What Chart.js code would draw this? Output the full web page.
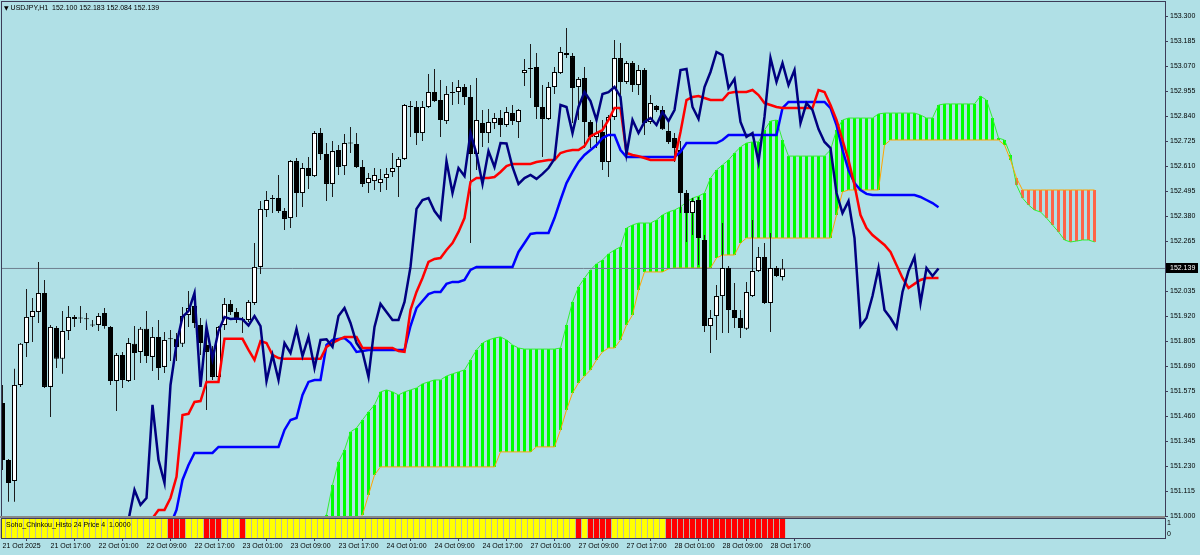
<!DOCTYPE html>
<html>
<head>
<meta charset="utf-8">
<title>USDJPY,H1</title>
<script src="https://cdn.jsdelivr.net/npm/chart.js@4.4.1/dist/chart.umd.min.js"></script>
<style>
  html, body { margin: 0; padding: 0; background: #b0e0e6; width: 1200px; height: 555px; overflow: hidden; }
  #wrap { position: relative; width: 1200px; height: 555px; }
  canvas { position: absolute; left: 0; }
  #mainChart { top: 0; }
  #histChart { top: 518px; }
  #sep { position: absolute; left: 0; top: 516px; width: 1165px; height: 2px; background: #8a8a8a; }
  .lbl { position: absolute; font-family: 'Liberation Sans', Arial, sans-serif; font-size: 7px; line-height: 8px; color: #000; white-space: pre; }
  #hdr { left: 4px; top: 4px; }
  #hdr .tri { font-family: 'DejaVu Sans', sans-serif; font-size: 6px; }
  #histLabel { left: 6px; top: 521px; }
</style>
</head>
<body>
<div id="wrap">
  <canvas id="mainChart" width="1200" height="524"></canvas>
  <div id="sep"></div>
  <canvas id="histChart" width="1200" height="37"></canvas>
  <div id="hdr" class="lbl"><span class="tri">▼</span> <span id="hdrText"></span></div>
  <div id="histLabel" class="lbl">Soho_Chinkou_Histo 24 Price 4  1.0000</div>
</div>
<script>
// ---- data (bar index 0 = 21 Oct 2025 09:00, H1) ----
const symbol = 'USDJPY,H1';

const opens = [
  151.520, 151.258, 151.161, 151.603, 151.796, 151.916, 151.939, 152.026, 151.594, 151.865,
  151.723, 151.851, 151.916, 151.911, 151.907, 151.879, 151.879, 151.934, 151.870, 151.621,
  151.741, 151.621, 151.792, 151.755, 151.861, 151.732, 151.824, 151.686, 151.815, 151.815,
  151.792, 151.925, 151.966, 151.879, 151.787, 151.755, 151.640, 151.879, 151.976, 151.939,
  151.907, 151.902, 151.980, 152.146, 152.408, 152.459, 152.463, 152.403, 152.371, 152.633,
  152.486, 152.601, 152.564, 152.762, 152.666, 152.528, 152.684, 152.610, 152.716, 152.712,
  152.606, 152.532, 152.541, 152.532, 152.555, 152.583, 152.606, 152.643, 152.886, 152.882,
  152.762, 152.882, 152.951, 152.914, 152.817, 152.946, 152.951, 152.974, 152.928, 152.666,
  152.808, 152.762, 152.808, 152.831, 152.799, 152.854, 152.813, 153.038, 153.061, 153.066,
  152.882, 152.827, 152.974, 153.038, 153.130, 153.116, 152.974, 153.015, 152.813, 152.744,
  152.767, 152.629, 152.836, 153.107, 152.997, 153.084, 152.983, 153.052, 152.813, 152.886,
  152.868, 152.771, 152.739, 152.684, 152.486, 152.394, 152.454, 152.270, 151.874, 151.920,
  152.012, 152.141, 151.948, 151.911, 151.861, 152.012, 152.127, 152.192, 151.980, 152.141,
  152.100
];
const highs = [
  151.603, 151.262, 151.677, 151.796, 152.045, 152.003, 152.169, 152.086, 151.879, 151.874,
  151.943, 151.966, 151.925, 151.966, 151.934, 151.902, 151.934, 151.957, 151.874, 151.750,
  151.755, 151.819, 151.874, 151.870, 151.943, 151.870, 151.902, 151.847, 151.856, 151.842,
  151.962, 152.035, 152.003, 151.911, 151.870, 151.782, 151.874, 152.003, 151.994, 151.957,
  151.916, 151.994, 152.256, 152.449, 152.495, 152.477, 152.569, 152.417, 152.638, 152.647,
  152.624, 152.652, 152.771, 152.785, 152.716, 152.725, 152.707, 152.758, 152.790, 152.762,
  152.638, 152.578, 152.601, 152.597, 152.601, 152.670, 152.652, 152.896, 152.909, 152.909,
  152.909, 153.034, 153.057, 153.006, 152.978, 152.997, 153.006, 152.988, 152.983, 153.015,
  152.868, 152.873, 152.854, 152.868, 152.882, 152.891, 152.873, 153.103, 153.172, 153.130,
  152.983, 152.997, 153.066, 153.158, 153.245, 153.130, 153.020, 153.066, 152.822, 152.822,
  152.822, 152.845, 153.190, 153.176, 153.093, 153.093, 153.075, 153.061, 152.937, 152.891,
  152.886, 152.813, 152.762, 152.725, 152.500, 152.463, 152.468, 152.293, 151.948, 152.063,
  152.348, 152.150, 152.072, 151.948, 152.077, 152.362, 152.238, 152.256, 152.302, 152.150,
  152.183
];
const lows = [
  151.212, 151.065, 151.065, 151.594, 151.732, 151.801, 151.888, 151.589, 151.456, 151.681,
  151.654, 151.810, 151.870, 151.888, 151.856, 151.870, 151.851, 151.861, 151.603, 151.483,
  151.589, 151.617, 151.626, 151.704, 151.704, 151.667, 151.626, 151.658, 151.713, 151.713,
  151.778, 151.870, 151.865, 151.741, 151.488, 151.626, 151.635, 151.856, 151.925, 151.888,
  151.842, 151.893, 151.971, 152.114, 152.376, 152.394, 152.394, 152.316, 152.325, 152.376,
  152.422, 152.505, 152.560, 152.638, 152.449, 152.468, 152.569, 152.569, 152.670, 152.601,
  152.514, 152.486, 152.500, 152.491, 152.500, 152.560, 152.468, 152.638, 152.744, 152.707,
  152.725, 152.877, 152.905, 152.744, 152.804, 152.891, 152.896, 152.891, 152.256, 152.592,
  152.698, 152.716, 152.781, 152.744, 152.790, 152.799, 152.739, 152.978, 152.923, 152.827,
  152.652, 152.822, 152.942, 153.034, 153.107, 152.808, 152.822, 152.693, 152.693, 152.693,
  152.592, 152.560, 152.822, 152.937, 152.988, 152.951, 152.937, 152.753, 152.804, 152.859,
  152.776, 152.712, 152.629, 152.394, 152.261, 152.293, 152.155, 151.847, 151.750, 151.810,
  151.842, 151.842, 151.865, 151.819, 151.856, 152.008, 152.123, 151.976, 151.847, 152.100,
  152.084
];
const closes = [
  151.258, 151.152, 151.603, 151.792, 151.916, 151.943, 152.026, 151.594, 151.870, 151.723,
  151.851, 151.916, 151.907, 151.909, 151.905, 151.877, 151.920, 151.874, 151.621, 151.741,
  151.626, 151.796, 151.750, 151.861, 151.736, 151.824, 151.681, 151.810, 151.813, 151.778,
  151.920, 151.957, 151.888, 151.796, 151.755, 151.640, 151.870, 151.976, 151.939, 151.902,
  151.902, 151.985, 152.146, 152.413, 152.454, 152.463, 152.403, 152.367, 152.633, 152.486,
  152.601, 152.564, 152.762, 152.666, 152.528, 152.679, 152.606, 152.716, 152.714, 152.606,
  152.528, 152.555, 152.569, 152.551, 152.574, 152.601, 152.643, 152.891, 152.882, 152.762,
  152.882, 152.951, 152.909, 152.822, 152.942, 152.950, 152.974, 152.928, 152.666, 152.822,
  152.762, 152.813, 152.831, 152.799, 152.859, 152.817, 152.868, 153.052, 153.057, 152.882,
  152.827, 152.974, 153.043, 153.135, 153.121, 152.969, 153.011, 152.813, 152.744, 152.762,
  152.629, 152.836, 153.107, 152.997, 153.084, 152.983, 153.052, 152.808, 152.900, 152.868,
  152.780, 152.721, 152.693, 152.486, 152.394, 152.449, 152.279, 151.874, 151.911, 152.012,
  152.141, 151.948, 151.911, 151.865, 152.031, 152.127, 152.192, 151.980, 152.141, 152.104,
  152.139
];

// Ichimoku lines as displayed (Tenkan / Kijun / Chikou drawn 26 bars ahead, cloud 52 ahead)
const tenkanStart = 24;
const tenkan = [
  150.960, 150.990, 151.028, 151.028, 151.083, 151.180, 151.465, 151.470, 151.525, 151.529,
  151.617, 151.617, 151.617, 151.815, 151.815, 151.815, 151.815, 151.764, 151.718, 151.805,
  151.796, 151.741, 151.727, 151.723, 151.723, 151.723, 151.723, 151.723, 151.723, 151.723,
  151.778, 151.796, 151.810, 151.824, 151.824, 151.824, 151.773, 151.773, 151.773, 151.773,
  151.773, 151.773, 151.759, 151.755, 151.948, 152.031, 152.095, 152.169, 152.183, 152.187,
  152.224, 152.256, 152.307, 152.371, 152.537, 152.555, 152.555, 152.555, 152.560, 152.583,
  152.610, 152.620, 152.620, 152.620, 152.620, 152.629, 152.633, 152.638, 152.638, 152.670,
  152.679, 152.684, 152.684, 152.702, 152.748, 152.762, 152.776, 152.822, 152.877, 152.877,
  152.670, 152.661, 152.656, 152.647, 152.638, 152.638, 152.638, 152.638, 152.638, 152.767,
  152.914, 152.928, 152.932, 152.923, 152.914, 152.914, 152.914, 152.946, 152.951, 152.951,
  152.951, 152.960, 152.937, 152.900, 152.891, 152.882, 152.877, 152.877, 152.877, 152.877,
  152.877, 152.877, 152.960, 152.951, 152.891, 152.822, 152.730, 152.638, 152.523, 152.385,
  152.325, 152.293, 152.270, 152.247, 152.215, 152.155, 152.095, 152.049, 152.068, 152.086,
  152.095, 152.095, 152.095
];
const kijunStart = 28;
const kijun = [
  150.960, 151.028, 151.166, 151.235, 151.290, 151.290, 151.290, 151.290, 151.318, 151.318,
  151.318, 151.318, 151.318, 151.318, 151.318, 151.318, 151.318, 151.318, 151.318, 151.396,
  151.442, 151.451, 151.557, 151.617, 151.626, 151.626, 151.787, 151.810, 151.815, 151.819,
  151.796, 151.755, 151.759, 151.764, 151.764, 151.764, 151.764, 151.764, 151.764, 151.764,
  151.874, 151.957, 151.989, 152.021, 152.031, 152.031, 152.068, 152.077, 152.077, 152.086,
  152.132, 152.146, 152.146, 152.146, 152.146, 152.146, 152.146, 152.146, 152.215, 152.256,
  152.298, 152.302, 152.302, 152.302, 152.371, 152.454, 152.532, 152.583, 152.629, 152.661,
  152.684, 152.707, 152.739, 152.753, 152.753, 152.684, 152.652, 152.652, 152.652, 152.652,
  152.652, 152.652, 152.652, 152.652, 152.652, 152.675, 152.716, 152.716, 152.716, 152.716,
  152.716, 152.716, 152.730, 152.753, 152.753, 152.753, 152.753, 152.753, 152.753, 152.753,
  152.753, 152.753, 152.877, 152.905, 152.905, 152.905, 152.905, 152.905, 152.905, 152.905,
  152.877, 152.799, 152.684, 152.592, 152.532, 152.500, 152.482, 152.477, 152.477, 152.477,
  152.477, 152.477, 152.477, 152.477, 152.477, 152.468, 152.454, 152.440, 152.421
];
// closes of the bars before the visible window, then the closes themselves
const chikouStart = 20;
const chikouLead = [150.890, 150.982, 151.120, 151.051, 151.083, 151.511];

const spanStart = 53;
const spanA = [
  150.980, 151.005, 151.143, 151.249, 151.304, 151.387, 151.405, 151.442, 151.479, 151.511,
  151.571, 151.580, 151.571, 151.557, 151.571, 151.580, 151.589, 151.608, 151.617, 151.626,
  151.626, 151.644, 151.654, 151.663, 151.672, 151.718, 151.764, 151.796, 151.810, 151.819,
  151.824, 151.810, 151.787, 151.773, 151.768, 151.768, 151.768, 151.768, 151.768, 151.768,
  151.773, 151.879, 151.985, 152.054, 152.095, 152.132, 152.160, 152.178, 152.206, 152.224,
  152.238, 152.325, 152.339, 152.348, 152.348, 152.348, 152.362, 152.385, 152.399, 152.408,
  152.422, 152.445, 152.463, 152.472, 152.486, 152.555, 152.592, 152.615, 152.638, 152.670,
  152.698, 152.716, 152.721, 152.721, 152.776, 152.817, 152.822, 152.730, 152.656, 152.656,
  152.656, 152.656, 152.656, 152.656, 152.656, 152.684, 152.776, 152.822, 152.831, 152.831,
  152.831, 152.831, 152.831, 152.850, 152.854, 152.854, 152.854, 152.854, 152.854, 152.854,
  152.845, 152.831, 152.831, 152.891, 152.896, 152.896, 152.896, 152.896, 152.896, 152.896,
  152.932, 152.914, 152.831, 152.739, 152.730, 152.661, 152.523, 152.463, 152.431, 152.408,
  152.399, 152.371, 152.339, 152.307, 152.270, 152.261, 152.265, 152.270, 152.270, 152.261
];
const spanB = [
  150.800, 150.820, 150.850, 150.880, 150.910, 150.940, 150.970, 151.005, 151.097, 151.189,
  151.226, 151.226, 151.226, 151.226, 151.226, 151.226, 151.226, 151.226, 151.226, 151.226,
  151.226, 151.226, 151.226, 151.226, 151.226, 151.226, 151.226, 151.226, 151.226, 151.226,
  151.295, 151.295, 151.295, 151.295, 151.295, 151.295, 151.318, 151.318, 151.318, 151.318,
  151.396, 151.488, 151.566, 151.612, 151.644, 151.672, 151.718, 151.755, 151.773, 151.773,
  151.810, 151.879, 151.925, 152.040, 152.123, 152.123, 152.123, 152.123, 152.137, 152.141,
  152.141, 152.141, 152.141, 152.141, 152.141, 152.141, 152.187, 152.201, 152.201, 152.201,
  152.256, 152.279, 152.279, 152.279, 152.279, 152.279, 152.279, 152.279, 152.279, 152.279,
  152.279, 152.279, 152.279, 152.279, 152.279, 152.279, 152.385, 152.491, 152.500, 152.500,
  152.500, 152.500, 152.500, 152.500, 152.707, 152.730, 152.730, 152.730, 152.730, 152.730,
  152.730, 152.730, 152.730, 152.730, 152.730, 152.730, 152.730, 152.730, 152.730, 152.730,
  152.730, 152.730, 152.730, 152.730, 152.707, 152.638, 152.555, 152.500, 152.500, 152.500,
  152.500, 152.500, 152.500, 152.500, 152.500, 152.500, 152.500, 152.500, 152.500, 152.500
];

// Soho_Chinkou_Histo: 1 = above (yellow), -1 = below (red); every bar at level 1.0000
const histLevel = 1;
const histSignal = [
  1, 1, 1, 1, 1, 1, 1, 1, 1, 1,
  1, 1, 1, 1, 1, 1, 1, 1, 1, 1,
  1, 1, 1, 1, 1, 1, 1, 1, -1, -1,
  -1, 1, 1, 1, -1, -1, -1, 1, 1, 1,
  -1, 1, 1, 1, 1, 1, 1, 1, 1, 1,
  1, 1, 1, 1, 1, 1, 1, 1, 1, 1,
  1, 1, 1, 1, 1, 1, 1, 1, 1, 1,
  1, 1, 1, 1, 1, 1, 1, 1, 1, 1,
  1, 1, 1, 1, 1, 1, 1, 1, 1, 1,
  1, 1, 1, 1, 1, 1, -1, 1, -1, -1,
  -1, -1, 1, 1, 1, 1, 1, 1, 1, 1,
  1, -1, -1, -1, -1, -1, -1, -1, -1, -1,
  -1, -1, -1, -1, -1, -1, -1, -1, -1, -1,
  -1
];

const priceTicks = [
  153.300, 153.185, 153.070, 152.955, 152.840, 152.725, 152.610, 152.495, 152.380, 152.265,
  152.150, 152.035, 151.920, 151.805, 151.690, 151.575, 151.460, 151.345, 151.230, 151.115,
  151.000
];
const timeTickBars = [0, 8, 16, 24, 32, 40, 48, 56, 64, 72, 80, 88, 96, 104, 112, 120, 128];
const timeTickLabels = [
  '21 Oct 2025', '21 Oct 17:00', '22 Oct 01:00', '22 Oct 09:00', '22 Oct 17:00',
  '23 Oct 01:00', '23 Oct 09:00', '23 Oct 17:00', '24 Oct 01:00', '24 Oct 09:00',
  '24 Oct 17:00', '27 Oct 01:00', '27 Oct 09:00', '27 Oct 17:00', '28 Oct 01:00',
  '28 Oct 09:00', '28 Oct 17:00'
];
const histTickPos = [0.21, 0.79];
const histTickLabels = ['0', '1'];

// ---- view / style ----
const X_MIN = -1 / 12;       // 6 px per bar, first bar 0.5px inside the frame
const X_MAX = 193.75;
const Y_MIN = 151.000;
const Y_MAX = 153.365;
const FRAME = '#3c3c58';
const BULL = '#ffffff';
const BEAR = '#000000';
const WICK = '#1c1c1c';
const KUMO_UP = '#00ff00';
const KUMO_DN = '#ff6347';

Chart.defaults.font.family = "'Liberation Sans', Arial, sans-serif";
Chart.defaults.font.size = 7;
Chart.defaults.color = '#000';

const toPoints = (vals, start) => vals.map((v, k) => ({ x: start + k, y: v }));
const lastClose = closes[closes.length - 1];

document.getElementById('hdrText').textContent =
  `${symbol}  ${opens[opens.length - 1].toFixed(3)} ${highs[highs.length - 1].toFixed(3)} ` +
  `${lows[lows.length - 1].toFixed(3)} ${lastClose.toFixed(3)}`;

// frame around the plot area (+ optional filler behind histogram bars)
const chartFrame = {
  id: 'chartFrame',
  beforeDatasetsDraw(chart, args, opts) {
    if (!opts.gapColor) return;
    const { ctx, chartArea: a, scales: { x } } = chart;
    const x0 = x.getPixelForValue(-0.5);
    const x1 = x.getPixelForValue(histSignal.length - 0.5);
    ctx.save();
    ctx.fillStyle = opts.gapColor;
    ctx.fillRect(x0, a.top, x1 - x0, a.bottom - a.top);
    ctx.restore();
  },
  afterDraw(chart, args, opts) {
    const { ctx, chartArea: a } = chart;
    ctx.save();
    ctx.strokeStyle = opts.color;
    ctx.lineWidth = 1;
    ctx.strokeRect(a.left - 0.5, a.top - 0.5, a.right - a.left + 1, a.bottom - a.top + 1);
    ctx.restore();
  }
};

// black bid label on the price scale
const priceTag = {
  id: 'priceTag',
  afterDraw(chart) {
    const { ctx, chartArea: a, scales: { y } } = chart;
    const py = Math.round(y.getPixelForValue(lastClose));
    ctx.save();
    ctx.fillStyle = '#000';
    ctx.fillRect(a.right + 1, py - 5, 32, 10);
    ctx.fillStyle = '#fff';
    ctx.font = "7px 'Liberation Sans', Arial, sans-serif";
    ctx.textBaseline = 'middle';
    ctx.fillText(lastClose.toFixed(3), a.right + 5, py);
    ctx.restore();
  }
};

const cloudBars = spanA.map((a, k) => ({ x: spanStart + k, y: [spanB[k], a] }));
const cloudFill = spanA.map((a, k) => (a >= spanB[k] ? KUMO_UP : KUMO_DN));

new Chart(document.getElementById('mainChart'), {
  type: 'bar',
  data: {
    datasets: [
      {
        label: 'kumo', data: cloudBars, backgroundColor: cloudFill,
        barThickness: 3, grouped: false, inflateAmount: 0, borderWidth: 0, order: 10
      },
      {
        type: 'line', label: 'Senkou B', data: toPoints(spanB, spanStart),
        borderColor: '#ffa500', borderWidth: 1, pointRadius: 0, tension: 0, order: 9
      },
      {
        type: 'line', label: 'Senkou A', data: toPoints(spanA, spanStart),
        borderColor: '#33ee33', borderWidth: 1, pointRadius: 0, tension: 0, order: 9
      },
      {
        type: 'line', label: 'bid', data: [{ x: X_MIN, y: lastClose }, { x: X_MAX, y: lastClose }],
        borderColor: '#6f7f8f', borderWidth: 1, pointRadius: 0, order: 8
      },
      {
        label: 'wicks', data: closes.map((c, i) => ({ x: i, y: [lows[i], highs[i]] })),
        backgroundColor: WICK, barThickness: 1, grouped: false, inflateAmount: 0,
        borderWidth: 0, minBarLength: 1, order: 6
      },
      {
        label: 'bodies', data: closes.map((c, i) => ({ x: i, y: [opens[i], c] })),
        backgroundColor: closes.map((c, i) => (c >= opens[i] ? BULL : BEAR)),
        borderColor: '#000', borderWidth: 1, borderSkipped: false,
        barThickness: 5, grouped: false, inflateAmount: 0, minBarLength: 1, order: 5
      },
      {
        type: 'line', label: 'Kijun', data: toPoints(kijun, kijunStart),
        borderColor: '#0000ff', borderWidth: 2.5, pointRadius: 0, tension: 0, order: 3
      },
      {
        type: 'line', label: 'Tenkan', data: toPoints(tenkan, tenkanStart),
        borderColor: '#ff0000', borderWidth: 2.5, pointRadius: 0, tension: 0, order: 2
      },
      {
        type: 'line', label: 'Chikou', data: toPoints(chikouLead.concat(closes), chikouStart),
        borderColor: '#000080', borderWidth: 2.5, pointRadius: 0, tension: 0, order: 1
      }
    ]
  },
  options: {
    responsive: false,
    animation: false,
    events: [],
    // extra bottom room so the 151.000 label is not cut by the canvas edge
    layout: { padding: { left: 2, top: 2, right: 0, bottom: 8 } },
    plugins: {
      legend: { display: false },
      tooltip: { enabled: false },
      chartFrame: { color: FRAME }
    },
    scales: {
      x: { type: 'linear', min: X_MIN, max: X_MAX, offset: false, display: false },
      y: {
        type: 'linear', position: 'right', min: Y_MIN, max: Y_MAX, beginAtZero: false,
        afterBuildTicks: (s) => { s.ticks = priceTicks.map((v) => ({ value: v })); },
        afterFit: (s) => { s.width = 35; s.paddingTop = 0; s.paddingBottom = 0; },
        ticks: { autoSkip: false, padding: 2, callback: (v) => v.toFixed(3) },
        grid: { drawOnChartArea: false, tickLength: 3, color: FRAME },
        border: { display: false }
      }
    }
  },
  plugins: [chartFrame, priceTag]
});

new Chart(document.getElementById('histChart'), {
  type: 'bar',
  data: {
    datasets: [{
      label: 'Soho_Chinkou_Histo',
      data: histSignal.map((s, i) => ({ x: i, y: histLevel })),
      backgroundColor: histSignal.map((s) => (s > 0 ? '#ffff00' : '#ff0000')),
      barThickness: 5, grouped: false, inflateAmount: 0, borderWidth: 0
    }]
  },
  options: {
    responsive: false,
    animation: false,
    events: [],
    layout: { padding: { left: 2, top: 1, right: 0, bottom: 0 } },
    plugins: {
      legend: { display: false },
      tooltip: { enabled: false },
      chartFrame: { color: FRAME, gapColor: '#b9b9a6' }
    },
    scales: {
      x: {
        type: 'linear', min: X_MIN, max: X_MAX, offset: false,
        afterBuildTicks: (s) => { s.ticks = timeTickBars.map((v) => ({ value: v })); },
        afterFit: (s) => { s.height = 17; s.paddingLeft = 0; s.paddingRight = 0; },
        ticks: {
          autoSkip: false, maxRotation: 0, minRotation: 0, align: 'start', padding: 1,
          callback: (v, i) => timeTickLabels[i]
        },
        grid: { drawOnChartArea: false, tickLength: 3, color: FRAME },
        border: { display: false }
      },
      y: {
        type: 'linear', position: 'right', min: 0, max: 1,
        afterBuildTicks: (s) => { s.ticks = histTickPos.map((v) => ({ value: v })); },
        afterFit: (s) => { s.width = 35; s.paddingTop = 0; s.paddingBottom = 0; },
        ticks: { autoSkip: false, padding: 2, callback: (v, i) => histTickLabels[i] },
        grid: { drawOnChartArea: false, tickLength: 0, color: FRAME },
        border: { display: false }
      }
    }
  },
  plugins: [chartFrame]
});
</script>
</body>
</html>
